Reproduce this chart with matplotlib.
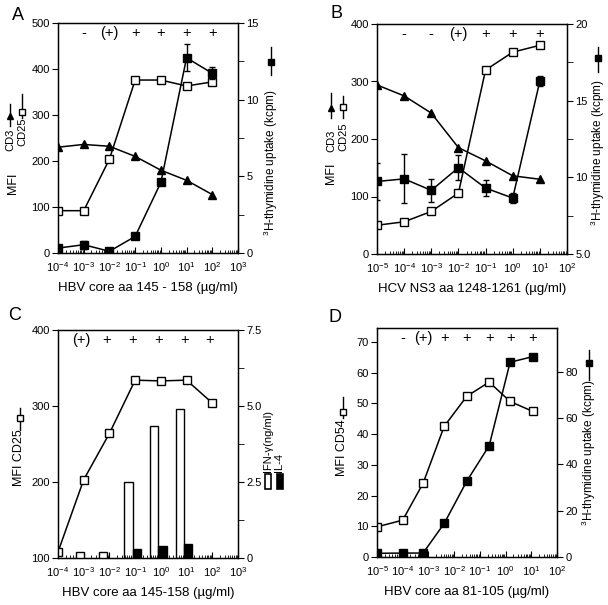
import numpy as np
import matplotlib.pyplot as plt
from matplotlib.lines import Line2D
from matplotlib.patches import Rectangle
from matplotlib.ticker import LogLocator, MultipleLocator, FixedLocator, NullFormatter

plt.rcParams['font.family'] = ['Liberation Sans', 'DejaVu Sans']
plt.rcParams['mathtext.fontset'] = 'custom'
plt.rcParams['mathtext.rm'] = 'Liberation Sans'
plt.rcParams['mathtext.it'] = 'Liberation Sans:italic'
plt.rcParams['mathtext.bf'] = 'Liberation Sans:bold'
plt.rcParams['mathtext.default'] = 'regular'

W, H = 608, 605

# --- panel A : HBV core aa 145-158
conc_a = [1e-4, 1e-3, 1e-2, 1e-1, 1e0, 1e1, 1e2]
cd3_a = [230, 236, 232, 210, 180, 158, 127]
cd25_a = [92, 92, 204, 376, 376, 363, 372]
thy_a = [0.32, 0.54, 0.11, 1.08, 4.6, 12.73, 11.72]
thy_a_err = [0.15, 0.25, 0.05, 0.0, 0.0, 0.87, 0.4]
marks_a = ['-', '(+)', '+', '+', '+', '+']
marks_a_x = [1e-3, 1e-2, 1e-1, 1e0, 1e1, 1e2]

# --- panel B : HCV NS3 aa 1248-1261
conc_b = [1e-5, 1e-4, 1e-3, 1e-2, 1e-1, 1e0, 1e1]
cd3_b = [294, 275, 245, 185, 162, 136, 130]
cd25_b = [50, 56, 74, 106, 320, 351, 363]
thy_b = [9.73, 9.9, 9.15, 10.63, 9.30, 8.65, 16.28]
thy_b_err = [1.18, 1.6, 0.75, 0.8, 0.5, 0.3, 0.35]
marks_b = ['-', '-', '(+)', '+', '+', '+']
marks_b_x = [1e-4, 1e-3, 1e-2, 1e-1, 1e0, 1e1]

# --- panel C : HBV core aa 145-158, cytokines
conc_c = [1e-4, 1e-3, 1e-2, 1e-1, 1e0, 1e1, 1e2]
cd25_c = [108, 203, 264, 334, 333, 334, 304]
ctrl_c_x = [7e-4, 5.6e-3]
ctrl_c = [102, 103]
bar_c_x = [0.08, 0.8, 8.0]
ifn_c = [2.49, 4.35, 4.89]
il4_c = [0.30, 0.41, 0.46]
marks_c = ['(+)', '+', '+', '+', '+', '+']
marks_c_x = [8e-4, 8e-3, 8e-2, 8e-1, 8e0, 8e1]

# --- panel D : HBV core aa 81-105
conc_d = [1e-5, 1e-4, 6.2e-4, 4.1e-3, 3.1e-2, 0.23, 1.5, 11.2]
cd54_d = [9.8, 12.0, 24.0, 42.5, 52.3, 56.9, 50.6, 47.4]
thy_d = [1.6, 1.7, 1.7, 14.5, 32.8, 48.1, 84.2, 86.6]
marks_d = ['-', '(+)', '+', '+', '+', '+', '+']
marks_d_x = conc_d[1:]

fig = plt.figure(figsize=(6.08, 6.05), dpi=100)


def box(x0, y0, x1, y1):
    return [x0 / W, 1 - y1 / H, (x1 - x0) / W, (y1 - y0) / H]


def setup(ax, lo, hi):
    ax.set_xscale('log')
    ax.set_xlim(lo, hi)
    ax.xaxis.set_major_locator(LogLocator(base=10, numticks=20))
    ax.xaxis.set_minor_locator(LogLocator(base=10, subs=np.arange(2, 10), numticks=20))
    ax.xaxis.set_minor_formatter(NullFormatter())
    ax.tick_params(axis='x', which='both', direction='in', labelsize=8, pad=5)
    ax.tick_params(axis='x', which='major', length=4)
    ax.tick_params(axis='x', which='minor', length=2.5)
    ax.tick_params(axis='y', which='both', direction='out', labelsize=8, length=4, pad=2)
    for s in ax.spines.values():
        s.set_linewidth(1.0)


def right_ticks(ax2):
    ax2.tick_params(axis='y', which='both', direction='out', labelsize=8, length=4, pad=2)


def marks(ax, xs, labels):
    tr = ax.get_xaxis_transform()
    for x, s in zip(xs, labels):
        ax.text(x, 0.955, s, transform=tr, ha='center', va='center', fontsize=10.5)


def glyph(x, y0, y1, ym, **kw):
    fig.add_artist(Line2D([x / W] * 3, [1 - y0 / H, 1 - ym / H, 1 - y1 / H],
                          transform=fig.transFigure, color='k', lw=1.0,
                          markevery=[1], markeredgecolor='k', **kw))


def label(x, y, s, size=8.5, **kw):
    fig.text(x / W, 1 - y / H, s, rotation=90, ha='center', va='center',
             fontsize=size, **kw)


up3 = '$^{3}$H-thymidine uptake (kcpm)'
line_kw = dict(color='k', lw=1.1)

# ---------------- A
ax = fig.add_axes(box(58, 23, 238, 253))
setup(ax, 1e-4, 1e3)
ax.set_ylim(0, 500)
ax.yaxis.set_major_locator(MultipleLocator(100))
ax2 = ax.twinx()
ax2.set_ylim(0, 15)
ax2.yaxis.set_major_locator(MultipleLocator(5))
ax2.yaxis.set_minor_locator(MultipleLocator(2.5))
right_ticks(ax2)
ax.plot(conc_a, cd3_a, marker='^', ms=6, mfc='k', mec='k', **line_kw)
ax.plot(conc_a, cd25_a, marker='s', ms=6, mfc='white', mec='k', **line_kw)
ax2.errorbar(conc_a, thy_a, yerr=thy_a_err, marker='s', ms=6, mfc='k', mec='k',
             capsize=2.5, elinewidth=1, **line_kw)
marks(ax, marks_a_x, marks_a)
ax.set_xlabel('HBV core aa 145 - 158 (µg/ml)', fontsize=9.5, labelpad=6)
fig.text(18 / W, 1 - 15 / H, 'A', fontsize=13, ha='center', va='center')
label(13, 183, 'MFI', size=9)
label(10, 140, 'CD3', size=8)
label(22, 132, 'CD25', size=8)
glyph(10, 104, 126, 116, marker='^', ms=5, mfc='k')
glyph(22, 94, 118, 112, marker='s', ms=5, mfc='white')
label(271, 163, up3)
glyph(271, 47, 75, 62, marker='s', ms=5, mfc='k')

# ---------------- B
ax = fig.add_axes(box(377, 24, 567, 254))
setup(ax, 1e-5, 1e2)
ax.set_ylim(0, 400)
ax.yaxis.set_major_locator(MultipleLocator(100))
ax2 = ax.twinx()
ax2.set_ylim(5, 20)
ax2.yaxis.set_major_locator(FixedLocator([5, 10, 15, 20]))
ax2.yaxis.set_minor_locator(MultipleLocator(2.5))
ax2.set_yticklabels(['5.0', '10', '15', '20'])
right_ticks(ax2)
ax.plot(conc_b, cd3_b, marker='^', ms=6, mfc='k', mec='k', **line_kw)
ax.plot(conc_b, cd25_b, marker='s', ms=6, mfc='white', mec='k', **line_kw)
ax2.errorbar(conc_b, thy_b, yerr=thy_b_err, marker='s', ms=6, mfc='k', mec='k',
             capsize=2.5, elinewidth=1, **line_kw)
marks(ax, marks_b_x, marks_b)
ax.set_xlabel('HCV NS3 aa 1248-1261 (µg/ml)', fontsize=9.5, labelpad=6)
fig.text(337 / W, 1 - 13 / H, 'B', fontsize=13, ha='center', va='center')
label(331, 173, 'MFI', size=9)
label(331, 141, 'CD3', size=8)
label(343, 137, 'CD25', size=8)
glyph(331, 93, 118, 108, marker='^', ms=5, mfc='k')
glyph(343, 96, 118, 107, marker='s', ms=5, mfc='white')
label(598, 153, up3)
glyph(598, 47, 72, 58, marker='s', ms=5, mfc='k')

# ---------------- C
ax = fig.add_axes(box(58, 330, 238, 558))
setup(ax, 1e-4, 1e3)
ax.set_ylim(100, 400)
ax.yaxis.set_major_locator(MultipleLocator(100))
ax2 = ax.twinx()
ax2.set_ylim(0, 7.5)
ax2.yaxis.set_major_locator(FixedLocator([0, 2.5, 5.0, 7.5]))
ax2.yaxis.set_minor_locator(MultipleLocator(1.25))
ax2.set_yticklabels(['0', '2.5', '5.0', '7.5'])
right_ticks(ax2)
bw = 0.32
lx = [10 ** (np.log10(c) - bw) for c in bar_c_x]
rx = [10 ** (np.log10(c) + bw) for c in bar_c_x]
ax2.bar(lx, ifn_c, width=[c - l for c, l in zip(bar_c_x, lx)], align='edge',
        facecolor='white', edgecolor='k', lw=1.0)
ax2.bar(bar_c_x, il4_c, width=[r - c for c, r in zip(bar_c_x, rx)], align='edge',
        facecolor='k', edgecolor='k', lw=1.0)
ax.set_zorder(ax2.get_zorder() + 1)
ax.patch.set_visible(False)
ax.plot(conc_c, cd25_c, marker='s', ms=6, mfc='white', mec='k', **line_kw)
ax.plot(ctrl_c_x, ctrl_c, ls='none', marker='s', ms=6, mfc='white', mec='k')
marks(ax, marks_c_x, marks_c)
ax.set_xlabel('HBV core aa 145-158 (µg/ml)', fontsize=9.5, labelpad=6)
fig.text(15 / W, 1 - 315 / H, 'C', fontsize=13, ha='center', va='center')
label(19, 458, 'MFI CD25', size=9)
glyph(20, 408, 430, 418, marker='s', ms=5, mfc='white')
fig.text(268 / W, 1 - 472 / H, 'IFN-γ(ng/ml)', rotation=90, ha='center',
         va='bottom', fontsize=8)
fig.text(279 / W, 1 - 472 / H, 'IL-4', rotation=90, ha='center',
         va='bottom', fontsize=8)
fig.add_artist(Rectangle((265 / W, 1 - 489 / H), 6 / W, 15 / H, transform=fig.transFigure,
                         facecolor='white', edgecolor='k', lw=1.2))
fig.add_artist(Rectangle((277 / W, 1 - 489 / H), 6 / W, 15 / H, transform=fig.transFigure,
                         facecolor='k', edgecolor='k', lw=1.2))

# ---------------- D
ax = fig.add_axes(box(377, 328, 557, 557))
setup(ax, 1e-5, 1e2)
ax.set_ylim(0, 74.5)
ax.yaxis.set_major_locator(MultipleLocator(10))
ax2 = ax.twinx()
ax2.set_ylim(0, 99)
ax2.yaxis.set_major_locator(MultipleLocator(20))
right_ticks(ax2)
ax.plot(conc_d, cd54_d, marker='s', ms=6, mfc='white', mec='k', **line_kw)
ax2.plot(conc_d, thy_d, marker='s', ms=6, mfc='k', mec='k', **line_kw)
marks(ax, marks_d_x, marks_d)
ax.set_xlabel('HBV core aa 81-105 (µg/ml)', fontsize=9.5, labelpad=6)
fig.text(335 / W, 1 - 317 / H, 'D', fontsize=13, ha='center', va='center')
label(342, 448, 'MFI CD54', size=9)
glyph(343, 397, 418, 412, marker='s', ms=5, mfc='white')
label(589, 453, up3)
glyph(589, 350, 380, 363, marker='s', ms=5, mfc='k')

fig.savefig('out.png', dpi=100)
